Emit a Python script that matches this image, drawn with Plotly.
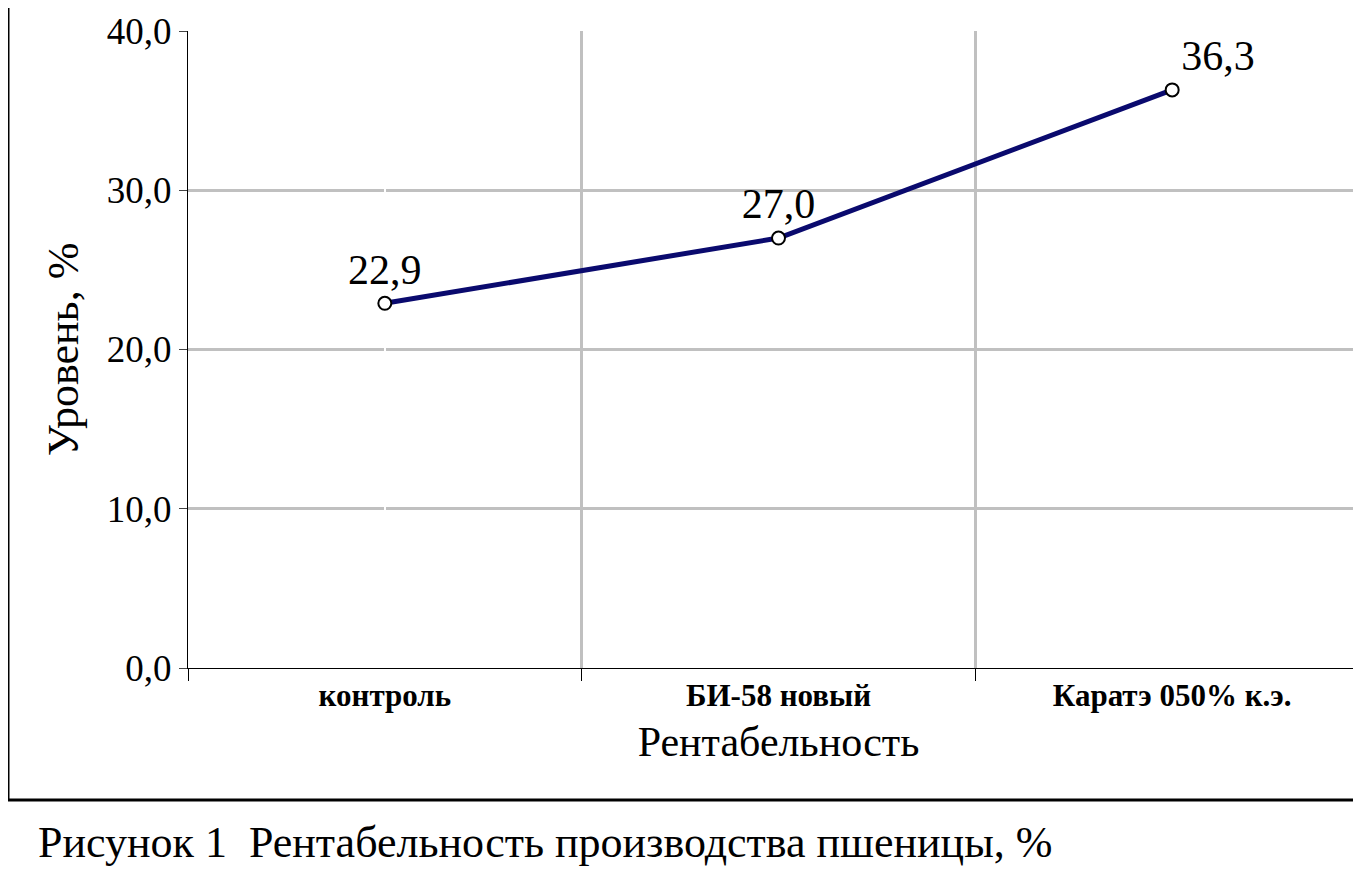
import plotly.graph_objects as go

categories = ["контроль", "БИ-58 новый", "Каратэ 050% к.э."]
values = [22.9, 27.0, 36.3]
labels = ["22,9", "27,0", "36,3"]
yticks = [0, 10, 20, 30, 40]
yticktext = ["0,0", "10,0", "20,0", "30,0", "40,0"]

F = "Liberation Serif"
L, R, T, B = 180, 0, 23, 213
PW, PH = 1361 - L - R, 873 - T - B
fig = go.Figure()
fig.add_trace(go.Scatter(
    x=list(range(len(categories))), y=values, mode="lines+markers+text",
    line=dict(color="#0a0a6e", width=5),
    marker=dict(size=13, color="white", line=dict(color="black", width=2)),
    text=labels, textposition=["top center", "top center", "top right"],
    textfont=dict(family=F, size=42, color="black"), cliponaxis=False,
    showlegend=False))
fig.update_layout(
    width=1361, height=873, paper_bgcolor="white", plot_bgcolor="white",
    margin=dict(l=L, r=R, t=T, b=B),
    xaxis=dict(range=[-0.5, 2.5], tickvals=[0, 1, 2], ticktext=["<b>%s</b>" % c for c in categories],
               tickfont=dict(family=F, size=31, color="black"), ticks="",
               showgrid=False, showline=True, linecolor="black", linewidth=1,
               minor=dict(tickvals=[-0.5, 0.5, 1.5, 2.5], showgrid=True, gridcolor="#c0c0c0",
                          gridwidth=3, ticks="outside", ticklen=12, tickcolor="black"),
               title=dict(text="Рентабельность", font=dict(family=F, size=42, color="black"), standoff=14)),
    yaxis=dict(range=[0, 40], tickvals=yticks, ticktext=yticktext,
               tickfont=dict(family=F, size=37, color="black"),
               showgrid=True, gridcolor="#c0c0c0", gridwidth=3,
               showline=True, linecolor="black", linewidth=1, ticks="outside", ticklen=8,
               title=dict(text="Уровень, %", font=dict(family=F, size=44, color="black"), standoff=14)),
    shapes=[dict(type="rect", xref="paper", yref="paper", x0=-L / PW, x1=1.0,
                 y0=-(800 - 668) / PH, y1=(668 + 8) / PH, line=dict(color="black", width=3))],
    annotations=[dict(text="Рисунок 1  Рентабельность производства пшеницы, %", xref="paper", yref="paper",
                      x=-152 / PW, y=-(842 - 668) / PH, xanchor="left", yanchor="middle", showarrow=False,
                      font=dict(family=F, size=44, color="black"))],
)
fig.write_html("out.html")
